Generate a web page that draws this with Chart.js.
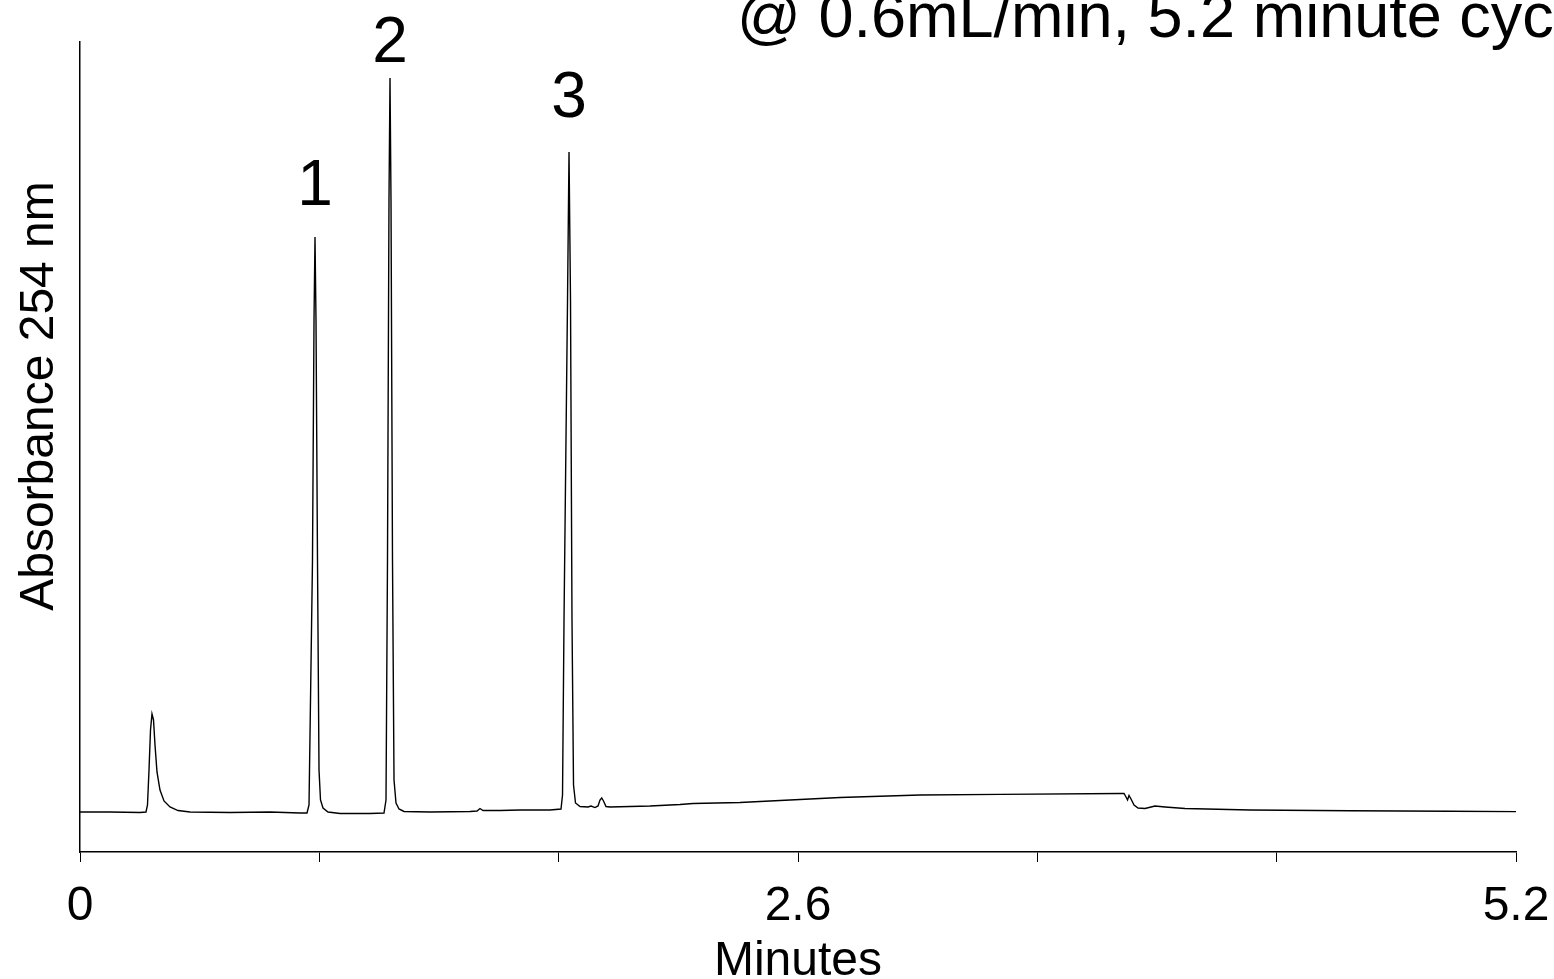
<!DOCTYPE html>
<html>
<head>
<meta charset="utf-8">
<script src="https://cdn.jsdelivr.net/npm/chart.js@4"></script>
<style>
  html, body { margin: 0; padding: 0; background: #fff; overflow: hidden; }
  #c { display: block; }
</style>
</head>
<body>
<canvas id="c" width="1554" height="979"></canvas>
<script>
// ---- Data ----
const times = [
  0, 0.1086, 0.2173, 0.2390, 0.2444, 0.2499, 0.2553, 0.2607, 0.2662, 0.2716,
  0.2788, 0.2897, 0.3042, 0.3259, 0.3549, 0.3983, 0.5432, 0.6880, 0.7967, 0.8220,
  0.8293, 0.8419, 0.8474, 0.8510, 0.8546, 0.8600, 0.8655, 0.8709, 0.8800, 0.8981,
  0.9415, 1.0501, 1.1008, 1.1081, 1.1135, 1.1189, 1.1226, 1.1262, 1.1316, 1.1371,
  1.1443, 1.1552, 1.1733, 1.2674, 1.4123, 1.4376, 1.4485, 1.4594, 1.5209, 1.5933,
  1.7020, 1.7418, 1.7473, 1.7527, 1.7654, 1.7708, 1.7762, 1.7816, 1.7871, 1.7943,
  1.8106, 1.8396, 1.8504, 1.8649, 1.8758, 1.8830, 1.8892, 1.8957, 1.9048, 1.9192,
  2.0641, 2.1727, 2.2198, 2.3900, 2.7521, 3.0418, 3.3315, 3.7661, 3.7806, 3.7878,
  3.7933, 3.7987, 3.8059, 3.8168, 3.8313, 3.8566, 3.8929, 3.9291, 4.0014, 4.2368,
  4.5988, 4.9609, 5.2
];
const absorbance = [
  4.94, 4.94, 4.88, 4.94, 5.80, 10.12, 15.06, 17.04, 16.30, 13.21,
  9.88, 7.65, 6.30, 5.56, 5.12, 4.94, 4.88, 4.94, 4.81, 4.81,
  5.80, 36.05, 65.68, 75.93, 65.68, 36.05, 10.12, 6.42, 5.43, 4.94,
  4.75, 4.75, 4.81, 6.42, 36.05, 80.49, 95.56, 80.49, 36.05, 8.89,
  6.05, 5.31, 5.00, 4.94, 5.00, 5.06, 5.37, 5.12, 5.12, 5.19,
  5.19, 5.31, 7.04, 28.64, 68.15, 86.42, 68.15, 28.64, 8.27, 6.05,
  5.62, 5.56, 5.68, 5.49, 5.68, 6.42, 6.67, 6.30, 5.62, 5.56,
  5.68, 5.86, 5.99, 6.11, 6.73, 7.04, 7.12, 7.22, 7.22, 6.79,
  6.42, 6.98, 6.54, 5.80, 5.43, 5.37, 5.68, 5.56, 5.37, 5.19,
  5.10, 5.03, 4.98
];
const xTickValues = [0, 0.8667, 1.7333, 2.6, 3.4667, 4.3333, 5.2];
const xTickLabels = ['0', '', '', '2.6', '', '', '5.2'];
const peakLabels = ['1', '2', '3'];
const peakLabelTimes = [0.851, 1.1226, 1.7708];
const peakLabelValues = [79.9, 97.5, 90.7];
const xTitle = 'Minutes';
const yTitle = 'Absorbance 254 nm';
const topNote = '@ 0.6mL/min, 5.2 minute cycle';

const FONT = '"Liberation Sans", Arial, Helvetica, sans-serif';

const annotationPlugin = {
  id: 'annotations',
  afterDraw(chart) {
    const ctx = chart.ctx;
    const xs = chart.scales.x, ys = chart.scales.y;
    ctx.save();
    ctx.fillStyle = '#000';
    // peak numbers
    ctx.font = '64px ' + FONT;
    ctx.textAlign = 'center';
    ctx.textBaseline = 'alphabetic';
    peakLabels.forEach((lab, i) => {
      ctx.fillText(lab, xs.getPixelForValue(peakLabelTimes[i]), ys.getPixelForValue(peakLabelValues[i]));
    });
    // top note (cut off by the top/right edge as in the reference)
    ctx.font = '63px ' + FONT;
    ctx.textAlign = 'left';
    ctx.fillText(topNote, 737, 37);
    // y-axis title
    ctx.font = '48px ' + FONT;
    ctx.textAlign = 'center';
    ctx.translate(53, 396);
    ctx.rotate(-Math.PI / 2);
    ctx.fillText(yTitle, 0, 0);
    ctx.restore();
  }
};

new Chart(document.getElementById('c'), {
  type: 'line',
  data: {
    datasets: [{
      data: times.map((t, i) => ({ x: t, y: absorbance[i] })),
      borderColor: '#000',
      borderWidth: 1.4,
      pointRadius: 0,
      tension: 0,
      fill: false
    }]
  },
  options: {
    responsive: false,
    animation: false,
    devicePixelRatio: 1,
    layout: { padding: { top: 42, right: 38, left: 0, bottom: 0 } },
    plugins: { legend: { display: false }, tooltip: { enabled: false } },
    scales: {
      x: {
        type: 'linear',
        min: 0,
        max: 5.2,
        afterBuildTicks: (s) => { s.ticks = xTickValues.map(v => ({ value: v })); },
        afterFit: (s) => { s.height = 127; s.paddingLeft = 0; s.paddingRight = 0; },
        ticks: {
          autoSkip: false,
          maxRotation: 0,
          minRotation: 0,
          padding: 16,
          color: '#000',
          font: { family: FONT, size: 48 },
          callback: (v, i) => xTickLabels[i]
        },
        grid: {
          display: true,
          drawOnChartArea: false,
          drawTicks: true,
          tickLength: 10,
          color: '#000',
          lineWidth: 1
        },
        border: { display: true, color: '#000', width: 1.5 },
        title: {
          display: true,
          text: xTitle,
          color: '#000',
          font: { family: FONT, size: 48, lineHeight: 0.72 },
          padding: { top: 0, bottom: 0 }
        }
      },
      y: {
        min: 0,
        max: 100,
        afterFit: (s) => { s.width = 80; },
        ticks: { display: false },
        grid: { display: false },
        border: { display: true, color: '#000', width: 1.5 }
      }
    }
  },
  plugins: [annotationPlugin]
});
</script>
</body>
</html>
